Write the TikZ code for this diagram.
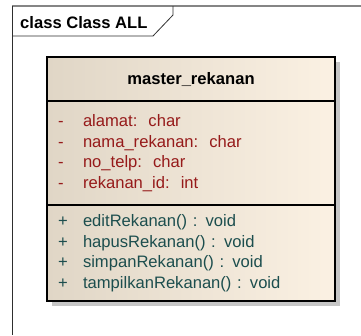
\documentclass[tikz,border=0pt]{standalone}
\usepackage{fontspec}
\setmainfont{Liberation Sans}
\usepackage{xcolor}
\usetikzlibrary{positioning,backgrounds}
\definecolor{FrameGray}{HTML}{858585}
\definecolor{EdgeDark}{HTML}{2E2E2E}
\definecolor{Tan}{HTML}{E0D6C6}
\definecolor{Cream}{HTML}{FBF1E3}
\definecolor{ShadowGray}{HTML}{C6C6C6}
\definecolor{AttrRed}{HTML}{961A1A}
\definecolor{OpTeal}{HTML}{1C4E4E}
\newcommand{\umlrow}[2]{\makebox[25pt][l]{#1}#2}

\begin{document}
\begin{tikzpicture}[
  x=1pt, y=-1pt,
  font=\fontsize{16.6}{20.5}\selectfont,
  compart/.style={draw=black, line width=1.1pt, left color=Tan, right color=Cream, minimum width=288pt, inner sep=0pt, outer sep=0pt},
  members/.style={compart, align=left, text width=266pt, inner xsep=11pt},
  frameline/.style={draw=EdgeDark, line width=0.8pt}
]
  \useasboundingbox (0,0) rectangle (361,335);
  % frame with its name tab
  \draw[FrameGray, line width=1.5pt] (12,6) -- (361,6);
  \draw[frameline, line width=1pt] (12,6) -- (12,335);
  \draw[frameline] (12,36) -- (153,36) -- (173,15) -- (173,6);
  \node[anchor=base west, inner sep=0pt, font=\fontsize{16.6}{19}\selectfont\bfseries] (title) at (20,28) {class Class ALL};

  % the class box
  \node[compart, minimum height=44pt, font=\fontsize{16.6}{19}\selectfont\bfseries] (head) at (191,79) {master\_rekanan};
  \node[members, minimum height=104pt, text=AttrRed, below=0pt of head] (attr) {%
    \umlrow{-}{alamat:\ \ char}\\
    \umlrow{-}{nama\_rekanan:\ \ char}\\
    \umlrow{-}{no\_telp:\ \ char}\\
    \umlrow{-}{rekanan\_id:\ \ int}};
  \node[members, minimum height=96pt, text=OpTeal, below=0pt of attr] (ops) {%
    \umlrow{+}{editRekanan() : void}\\
    \umlrow{+}{hapusRekanan() : void}\\
    \umlrow{+}{simpanRekanan() : void}\\
    \umlrow{+}{tampilkanRekanan() : void}};
  \begin{scope}[on background layer]
    \fill[ShadowGray] ([xshift=5pt,yshift=-5pt]head.north west) rectangle ([xshift=5pt,yshift=-5pt]ops.south east);
  \end{scope}
\end{tikzpicture}
\end{document}
